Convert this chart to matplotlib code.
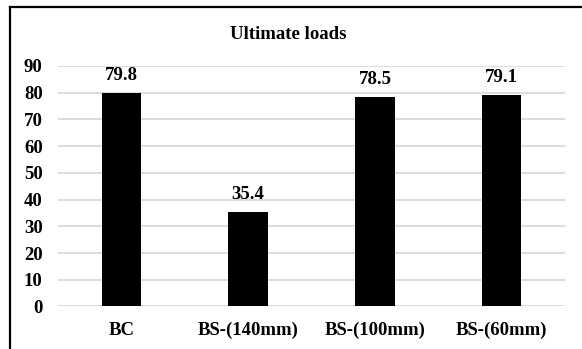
import matplotlib.pyplot as plt
from matplotlib.lines import Line2D

# data
labels = ["BC", "BS-(140mm)", "BS-(100mm)", "BS-(60mm)"]
loads = [79.8, 35.4, 78.5, 79.1]
yticks = [0, 10, 20, 30, 40, 50, 60, 70, 80, 90]

plt.rcParams['font.family'] = ['Liberation Serif', 'DejaVu Serif']
plt.rcParams['font.weight'] = 'bold'

fig = plt.figure(figsize=(5.82, 3.49), dpi=100)
ax = fig.add_axes([0.0997, 0.1218, 0.8711, 0.6891])

x = range(len(labels))
bars = ax.bar(x, loads, width=0.31, color='black', zorder=3)

# value labels over the bars
for b, v in zip(bars, loads):
    ax.text(b.get_x() + b.get_width() / 2, v + 6.6, "%.1f" % v,
            ha='center', va='center', fontsize=13.5, fontweight='bold')

ax.set_xlim(-0.5, len(labels) - 0.5)
ax.set_ylim(0, 90)
ax.set_yticks(yticks)
ax.set_xticks(list(x))
ax.set_xticklabels(labels)
ax.tick_params(axis='both', length=0, labelsize=13.5)
ax.tick_params(axis='y', pad=11)
ax.tick_params(axis='x', pad=11)
for t in ax.get_xticklabels() + ax.get_yticklabels():
    t.set_fontweight('bold')

ax.grid(axis='y', color='#d9d9d9', linewidth=1.3, zorder=0)
for s in ax.spines.values():
    s.set_visible(False)

fig.text(0.496, 0.902, "Ultimate loads", ha='center', va='center',
         fontsize=13.5, fontweight='bold')

# chart frame (only left and top edges are visible in the crop)
fig.add_artist(Line2D([10.5 / 582, 10.5 / 582], [0, 1 - 6.5 / 349],
                      transform=fig.transFigure, color='black', linewidth=1.6))
fig.add_artist(Line2D([10.5 / 582, 1], [1 - 6.5 / 349, 1 - 6.5 / 349],
                      transform=fig.transFigure, color='black', linewidth=1.6))

fig.savefig("out.png", dpi=100)
